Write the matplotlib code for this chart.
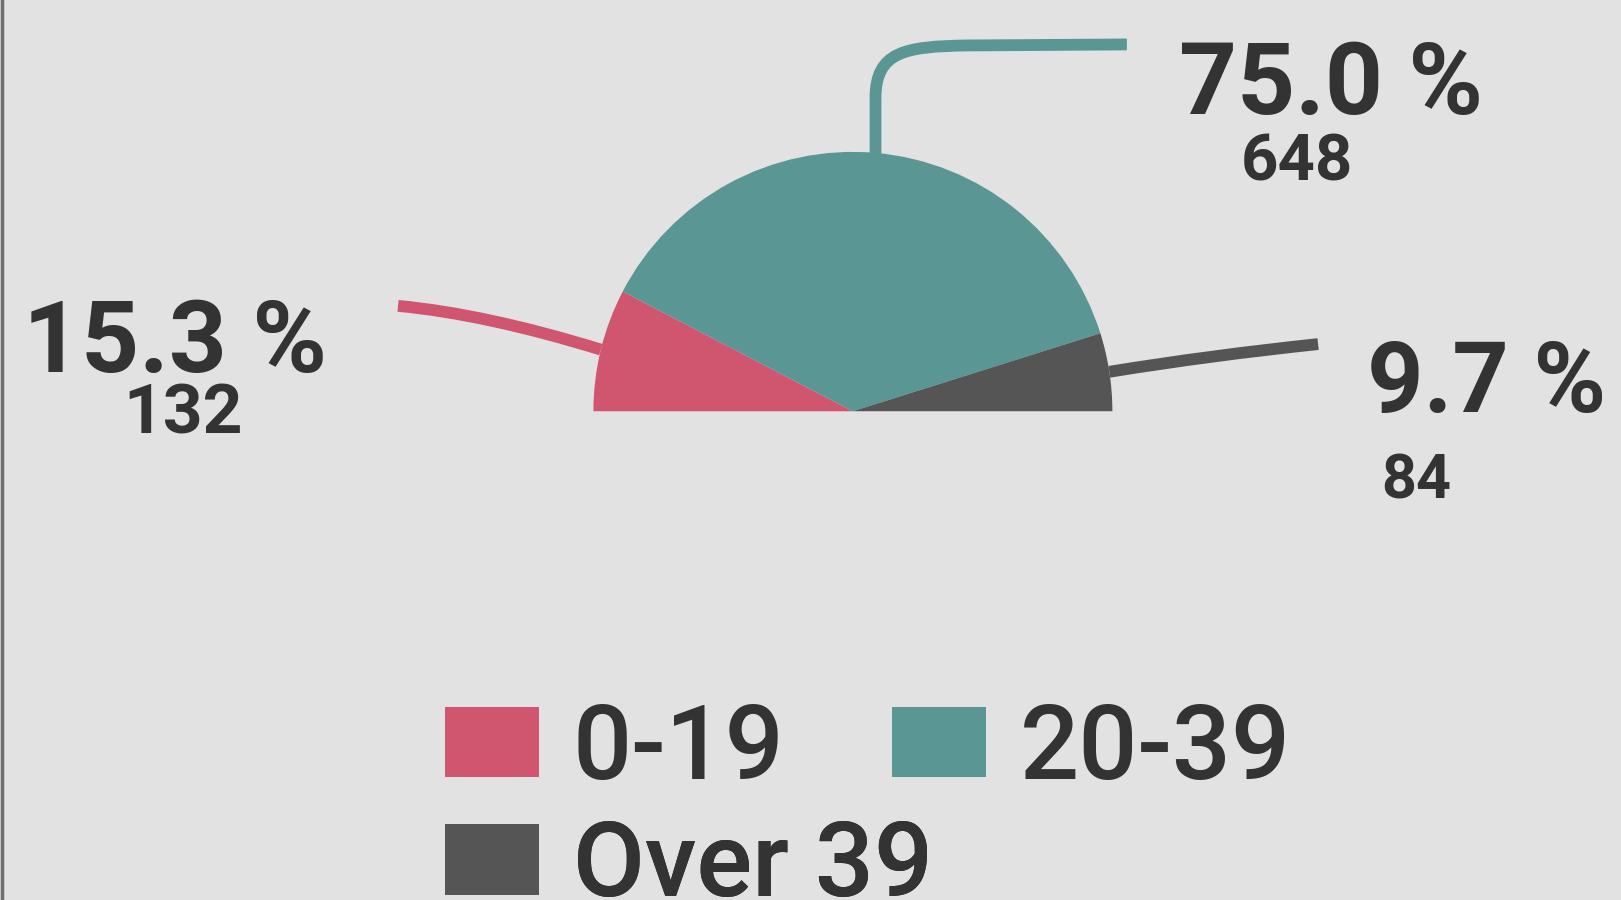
import numpy as np
import matplotlib.pyplot as plt
from matplotlib.patches import Wedge, Patch
from matplotlib.path import Path
from matplotlib.patches import PathPatch

plt.rcParams['font.family'] = ['Roboto', 'DejaVu Sans']

# data
categories = ['0-19', '20-39', 'Over 39']
counts = [132, 648, 84]
colors = ['#d0566f', '#5a9693', '#555555']
text_color = '#333333'
bg = '#e2e2e2'

W, H = 1568, 871  # working canvas units

fig = plt.figure(figsize=(16.21, 9.0), dpi=100)
fig.patch.set_facecolor(bg)
ax = fig.add_axes([0, 0, 1, 1])
ax.set_xlim(0, W)
ax.set_ylim(0, H)
ax.set_facecolor(bg)
ax.axis('off')

def y(v):
    return H - v

# half pie
cx, cy, r = 825, y(398), 251
total = sum(counts)
angle = 180.0
mids = []
for c, col in zip(counts, colors):
    span = 180.0 * c / total
    ax.add_patch(Wedge((cx, cy), r, angle - span, angle, facecolor=col, edgecolor='none'))
    mids.append(np.radians(angle - span / 2))
    angle -= span

def arc_pt(a):
    return cx + r * np.cos(a), cy + r * np.sin(a)

# leader lines
lw = 8.5
# 0-19
sx, sy = arc_pt(mids[0])
p = Path([(sx, sy), (470, y(304)), (385, y(296))], [Path.MOVETO, Path.CURVE3, Path.CURVE3])
ax.add_patch(PathPatch(p, fill=False, edgecolor=colors[0], lw=lw, capstyle='butt', zorder=0))
# 20-39
sx, sy = arc_pt(mids[1])
p = Path([(sx, sy - 2), (sx, y(95)), (sx, y(50)), (875, y(45)), (935, y(44)), (1090, y(43))],
         [Path.MOVETO, Path.LINETO, Path.CURVE4, Path.CURVE4, Path.CURVE4, Path.LINETO])
ax.add_patch(PathPatch(p, fill=False, edgecolor=colors[1], lw=lw, capstyle='butt', zorder=0))
# Over 39
sx, sy = arc_pt(mids[2])
p = Path([(sx, sy), (1170, y(344)), (1275, y(333))], [Path.MOVETO, Path.CURVE3, Path.CURVE3])
ax.add_patch(PathPatch(p, fill=False, edgecolor=colors[2], lw=lw, capstyle='butt', zorder=0))

# labels
pcts = [100.0 * c / total for c in counts]
pct_pos = [(22, 360), (1140, 110), (1322, 399)]
cnt_pos = [(177, 420), (1255, 175), (1370, 482)]
pct_size = [73, 73, 71]
cnt_size = [50, 47, 44]
for i in range(3):
    ax.text(pct_pos[i][0], y(pct_pos[i][1]), f'{pcts[i]:.1f} %', fontsize=pct_size[i],
            color=text_color, fontweight='bold', ha='left', va='baseline')
    ax.text(cnt_pos[i][0], y(cnt_pos[i][1]), f'{counts[i]}', fontsize=cnt_size[i],
            color=text_color, fontweight='bold', ha='center', va='baseline')

# legend: two rows drawn as two legends so the second column is not aligned to "Over 39"
leg_kw = dict(loc='upper left', frameon=False, fontsize=75, handlelength=0.91, handleheight=0.67,
              handletextpad=0.32, columnspacing=1.03, borderpad=0, borderaxespad=0)
rows = [[0, 1], [2]]
row_top = [678, 792]
for idx, top in zip(rows, row_top):
    handles = [Patch(facecolor=colors[i], edgecolor='none', label=categories[i]) for i in idx]
    leg = ax.legend(handles=handles, ncol=len(idx), bbox_to_anchor=(430 / W, 1 - top / H), **leg_kw)
    for t in leg.get_texts():
        t.set_color(text_color)
        t.set_fontweight('medium')
    ax.add_artist(leg)

# left edge rule
ax.plot([1.5, 1.5], [0, H], color='#6e6e6e', lw=2.5)

fig.savefig('out.png', dpi=100, facecolor=bg)
